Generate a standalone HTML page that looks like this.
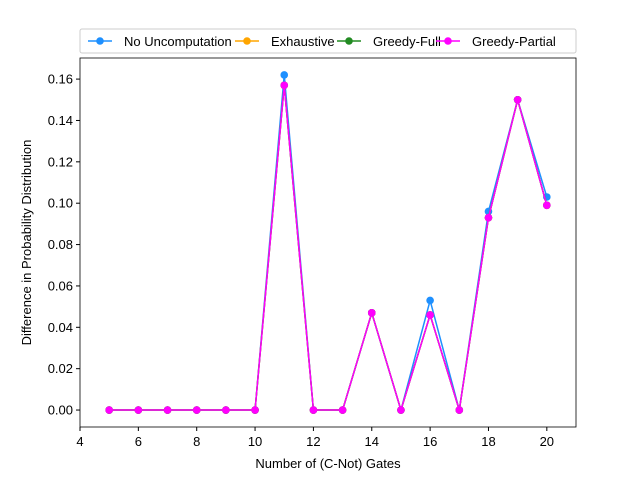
<!DOCTYPE html>
<html><head><meta charset="utf-8"><style>body{margin:0;background:#fff}svg{display:block;font-family:"Liberation Sans","DejaVu Sans",sans-serif}</style></head>
<body>
<svg id="c" width="640" height="480"></svg>
<script>
const xs=[5,6,7,8,9,10,11,12,13,14,15,16,17,18,19,20];
const noUncomp=[0,0,0,0,0,0,0.162,0,0,0.047,0,0.053,0,0.096,0.150,0.103];
const exhaustive=[0,0,0,0,0,0,0.157,0,0,0.047,0,0.046,0,0.093,0.150,0.099];
const greedyFull=[0,0,0,0,0,0,0.157,0,0,0.047,0,0.046,0,0.093,0.150,0.099];
const greedyPartial=[0,0,0,0,0,0,0.157,0,0,0.047,0,0.046,0,0.093,0.150,0.099];
const xTicks=[4,6,8,10,12,14,16,18,20];
const yTicks=[0,0.02,0.04,0.06,0.08,0.10,0.12,0.14,0.16];
const seriesNames=["No Uncomputation","Exhaustive","Greedy-Full","Greedy-Partial"];
const seriesColors=["#1e90ff","orange","#228b22","magenta"];
const L=80,R=576,T=58,B=427,xmin=4,xmax=21,ymin=-0.0082,ymax=0.1702;
const X=v=>L+(v-xmin)/(xmax-xmin)*(R-L);
const Y=v=>B-(v-ymin)/(ymax-ymin)*(B-T);
const svg=document.getElementById('c');const NS='http://www.w3.org/2000/svg';
function mk(t,a,p){const e=document.createElementNS(NS,t);for(const k in a)e.setAttribute(k,a[k]);(p||svg).appendChild(e);return e;}
let g=mk('g',{});
xTicks.forEach(v=>{mk('line',{x1:X(v),x2:X(v),y1:B,y2:B+4,stroke:'#000'},g);const t=mk('text',{x:X(v),y:B+19,'text-anchor':'middle','font-size':13},g);t.textContent=v;});
let xt=mk('text',{x:(L+R)/2,y:468,'text-anchor':'middle','font-size':13});xt.textContent='Number of (C-Not) Gates';

g=mk('g',{});
yTicks.forEach(v=>{mk('line',{x1:L-4,x2:L,y1:Y(v),y2:Y(v),stroke:'#000'},g);const t=mk('text',{x:L-7,y:Y(v)+4.5,'text-anchor':'end','font-size':13},g);t.textContent=v.toFixed(2);});
let yt=mk('text',{x:31,y:(T+B)/2,'text-anchor':'middle','font-size':13,transform:`rotate(-90 31 ${(T+B)/2})`});yt.textContent='Difference in Probability Distribution';

[noUncomp,exhaustive,greedyFull,greedyPartial].forEach((s,i)=>{const sg=mk('g',{});


mk('polyline',{points:s.map((v,j)=>X(xs[j])+','+Y(v)).join(' '),fill:'none',stroke:seriesColors[i],'stroke-width':1.5},sg);
s.forEach((v,j)=>{const c=mk('circle',{cx:X(xs[j]),cy:Y(v),r:3.8,fill:seriesColors[i]},sg);

});});
const fr=mk('rect',{x:L,y:T,width:R-L,height:B-T,fill:'none',stroke:'#000','stroke-width':0.8});

const lg=mk('g',{});
mk('rect',{x:80,y:29,width:496,height:24,rx:2,fill:'#fff',stroke:'#ccc'},lg);
const lx=[88,235,337,436];
seriesNames.forEach((n,i)=>{const eg=mk('g',{},lg);


mk('line',{x1:lx[i],x2:lx[i]+24,y1:41,y2:41,stroke:seriesColors[i],'stroke-width':1.5},eg);
mk('circle',{cx:lx[i]+12,cy:41,r:3.8,fill:seriesColors[i]},eg);
const t=mk('text',{x:lx[i]+36,y:46,'font-size':13},eg);t.textContent=n;});
</script>
</body></html>
